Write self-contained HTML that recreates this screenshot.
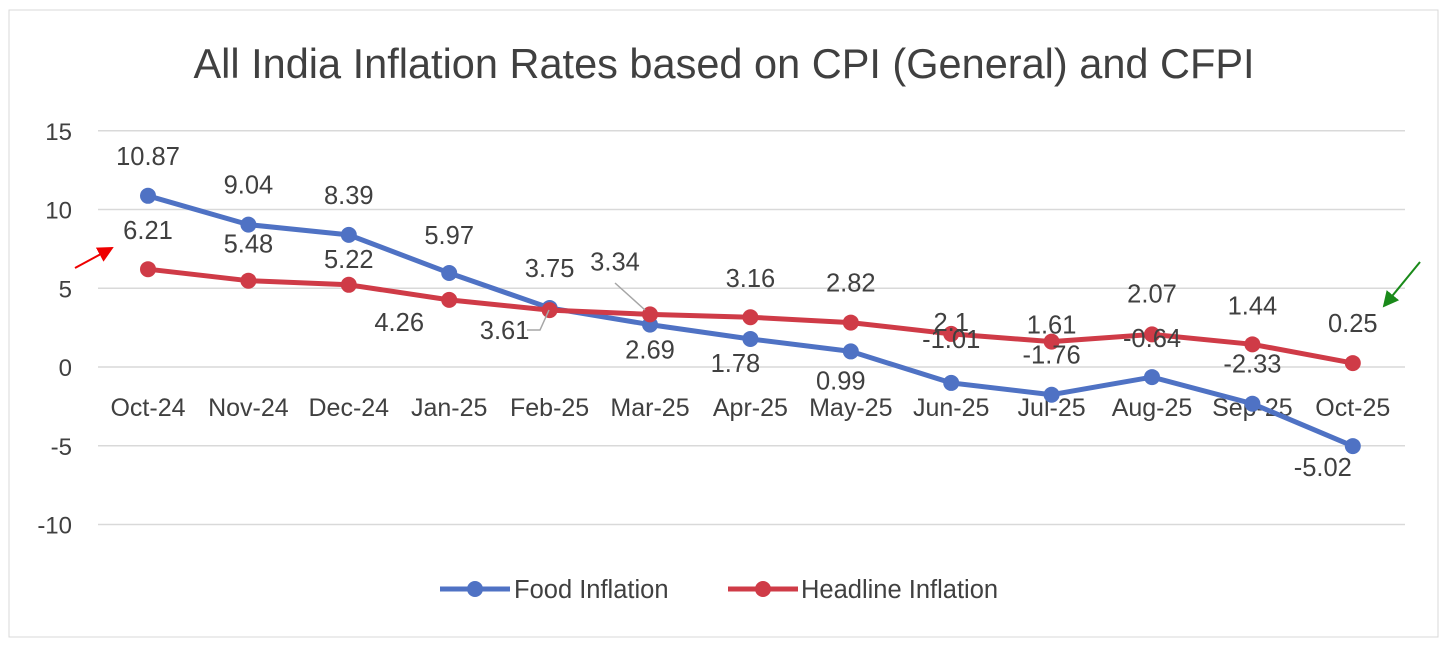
<!DOCTYPE html>
<html><head><meta charset="utf-8"><style>
body{margin:0;background:#fff;}
svg text{font-family:"Liberation Sans",sans-serif;fill:#404040;}
</style></head><body>
<svg id="c" width="1447" height="646">
<rect x="9" y="10" width="1429" height="627" fill="#fff" stroke="#d9d9d9"/>
<text x="724" y="78" font-size="41.5" text-anchor="middle">All India Inflation Rates based on CPI (General) and CFPI</text>
<g id="grid"></g><g id="series"></g><g id="labels"></g>
<defs>
<marker id="ar" markerWidth="8" markerHeight="8" refX="7" refY="4" orient="auto"><path d="M0,0L8,4L0,8z" fill="#e00"/></marker>
<marker id="ag" markerWidth="8" markerHeight="8" refX="7" refY="4" orient="auto"><path d="M0,0L8,4L0,8z" fill="#1a8a1a"/></marker>
</defs>
<line x1="75" y1="268" x2="112" y2="248" stroke="#e00" stroke-width="2" marker-end="url(#ar)"/>
<line x1="1420" y1="262" x2="1384" y2="306" stroke="#1a8a1a" stroke-width="2" marker-end="url(#ag)"/>
<g>
<line x1="440" y1="589" x2="510" y2="589" stroke="#4f72c4" stroke-width="5"/>
<circle cx="475" cy="589" r="8" fill="#4f72c4"/>
<text x="514" y="598" font-size="25.5">Food Inflation</text>
<line x1="728" y1="589" x2="798" y2="589" stroke="#cf3b47" stroke-width="5"/>
<circle cx="763" cy="589" r="8" fill="#cf3b47"/>
<text x="801" y="598" font-size="25.5">Headline Inflation</text>
</g>
</svg>
<script>
const categories=["Oct-24","Nov-24","Dec-24","Jan-25","Feb-25","Mar-25","Apr-25","May-25","Jun-25","Jul-25","Aug-25","Sep-25","Oct-25"];
const foodValues=[10.87,9.04,8.39,5.97,3.75,2.69,1.78,0.99,-1.01,-1.76,-0.64,-2.33,-5.02];
const headlineValues=[6.21,5.48,5.22,4.26,3.61,3.34,3.16,2.82,2.1,1.61,2.07,1.44,0.25];
const yTicks=[15,10,5,0,-5,-10];
// label offsets (style, not data)
const foodOff=[[0,-40],[0,-40],[0,-40],[0,-38],[0,-40],[0,25],[-15,24],[-10,29],[0,-44],[0,-40],[0,-39],[0,-40],[-30,21]];
const headOff=[[0,-39],[0,-37],[0,-26],[-50,22],[-45,20],[-35,-53],[0,-39],[0,-40],[0,-12],[0,-17],[0,-41],[0,-39],[0,-40]];
const NS="http://www.w3.org/2000/svg";
const x=i=>148+i*100.4;
const y=v=>367-v*15.75;
function mk(t,a,p){const e=document.createElementNS(NS,t);for(const k in a)e.setAttribute(k,a[k]);p.appendChild(e);return e;}
const grid=document.getElementById('grid'),ser=document.getElementById('series'),lab=document.getElementById('labels');
yTicks.forEach(v=>{
 const l=mk('line',{x1:98,x2:1405,y1:y(v),y2:y(v),stroke:'#d9d9d9','stroke-width':1.5},grid);
 
 
 const t=mk('text',{x:72,y:y(v)+9,'font-size':24,'text-anchor':'end'},grid);t.textContent=v;
 
 
});
categories.forEach((c,i)=>{
 const t=mk('text',{x:x(i),y:416,'font-size':25,'text-anchor':'middle'},grid);t.textContent=c;
 
 
});
function series(vals,col,off,name){
 const p=mk('polyline',{points:vals.map((v,i)=>x(i)+','+y(v)).join(' '),fill:'none',stroke:col,'stroke-width':5,'stroke-linejoin':'round'},ser);
 
 
 vals.forEach((v,i)=>{
  const c=mk('circle',{cx:x(i),cy:y(v),r:8,fill:col},ser);
  
  
  const t=mk('text',{x:x(i)+off[i][0],y:y(v)+off[i][1]+9,'font-size':25.5,'text-anchor':'middle'},lab);
  t.textContent=v;
  
  
 });
}
series(foodValues,'#4f72c4',foodOff,'food');
series(headlineValues,'#cf3b47',headOff,'headline');
// leader lines
mk('polyline',{points:'527,330 540,330 549,310',fill:'none',stroke:'#a6a6a6','stroke-width':1.5},lab);
mk('line',{x1:615,y1:283,x2:645,y2:310,stroke:'#a6a6a6','stroke-width':1.5},lab);
</script>
</body></html>
